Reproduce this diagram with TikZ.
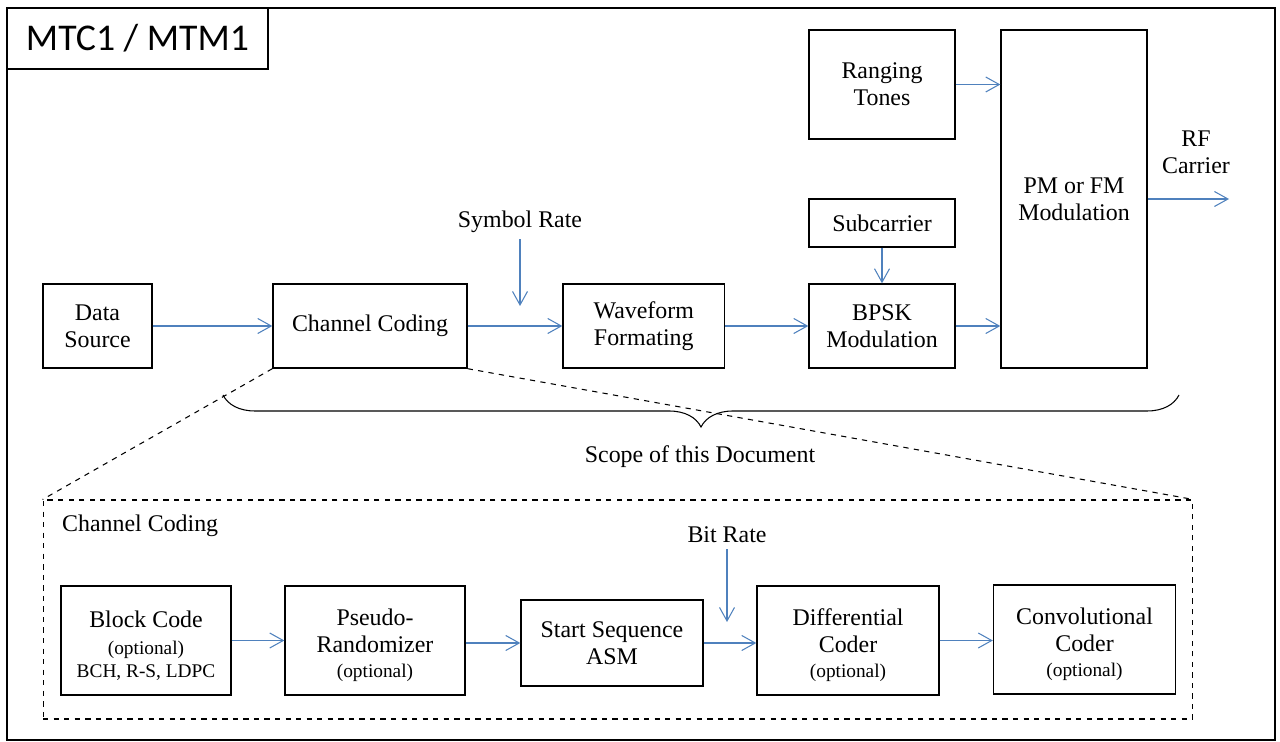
\documentclass[tikz,border=0pt]{standalone}
\usepackage{fontspec}
\setmainfont{Liberation Serif}
\newfontfamily\titlefont{Carlito}
\usepackage{xcolor}
\usepackage{tikz}
\usetikzlibrary{arrows.meta,decorations.pathreplacing}
\definecolor{flowblue}{HTML}{4F81BD}
\newcommand{\opt}{\fontsize{11}{14}\selectfont}
\newcommand{\topstrut}{\rule{0pt}{15pt}}

\begin{document}
\begin{tikzpicture}[x=0.02cm, y=-0.02cm,
  box/.style={draw, line width=0.8pt, align=center, inner sep=2pt, font=\rmfamily\fontsize{13.6}{15.5}\selectfont},
  lbl/.style={align=center, font=\rmfamily\fontsize{13.6}{15.5}\selectfont},
  flow/.style={draw=flowblue, line width=0.6pt, -{Straight Barb[length=2.7mm,width=3mm]}},
  zoomline/.style={dashed, line width=0.6pt}]
\useasboundingbox (0,0) rectangle (1280,742);

% Frame and title
\draw[line width=1.4pt] (7,8) rectangle (1275,740);
\node[draw, line width=1.2pt, minimum width=5.22cm, minimum height=1.22cm,
  font=\titlefont\fontsize{21.5}{24}\selectfont] (title) at (137.5,38.5) {MTC1 / MTM1};

% Top chain
\node[box, minimum width=2.18cm, minimum height=1.68cm] (src) at (97.5,326) {Data\\Source};
\node[box, minimum width=3.88cm, minimum height=1.68cm] (cc) at (370,326) {Channel Coding};
\node[box, minimum width=3.23cm, minimum height=1.68cm] (wf) at (643.75,326) {Waveform\\Formating};
\node[box, minimum width=2.92cm, minimum height=1.68cm] (bpsk) at (882,326) {BPSK\\Modulation};
\node[box, minimum width=2.92cm, minimum height=0.96cm] (sub) at (882,223) {Subcarrier};
\node[box, minimum width=2.92cm, minimum height=2.18cm] (rng) at (882,84.5) {Ranging\\Tones};
\node[box, minimum width=2.92cm, minimum height=6.76cm] (pm) at (1074,199) {PM or FM\\Modulation};
\node[lbl] (rf) at (1196,152) {RF\\Carrier};
\node[lbl] (symrate) at (520,222) {Symbol Rate};
\coordinate (symtip) at (520,306);
\coordinate (rfend) at (1229,199);

\draw[flow] (src) -- (cc);
\draw[flow] (cc) -- (wf);
\draw[flow] (wf) -- (bpsk);
\draw[flow] (sub) -- (bpsk);
\draw[flow] (rng.east) -- (pm.west |- rng.east);
\draw[flow] (bpsk.east) -- (pm.west |- bpsk.east);
\draw[flow] (pm.east) -- (rfend);
\draw[flow] (symrate.south) -- (symtip);

% Scope brace
\coordinate (bl) at (223,395);
\coordinate (br) at (1179,395);
\draw[decorate, decoration={brace, mirror, amplitude=0.64cm}, line width=0.6pt] (bl) -- (br);
\node[lbl] (scope) at (700,457) {Scope of this Document};

% Channel coding detail
\node[draw, dashed, line width=0.6pt, minimum width=23cm, minimum height=4.38cm] (ccbox) at (618,609.5) {};
\draw[zoomline] (cc.south west) -- (ccbox.north west);
\draw[zoomline] (cc.south east) -- (ccbox.north east);
\node[lbl, anchor=west] (cclabel) at (56,526) {Channel Coding};

\node[box, minimum width=3.4cm, minimum height=2.18cm] (blk) at (146,640.5) {\topstrut Block Code\\{\opt(optional)}\\[-2.5pt]{\opt BCH, R-S, LDPC}};
\node[box, minimum width=3.6cm, minimum height=2.18cm] (prand) at (375,640.5) {\topstrut Pseudo-\\Randomizer\\[-1pt]{\opt(optional)}};
\node[box, minimum width=3.64cm, minimum height=1.72cm] (asm) at (612,643) {Start Sequence\\ASM};
\node[box, minimum width=3.64cm, minimum height=2.18cm] (diff) at (848,640.5) {\topstrut Differential\\Coder\\[-1pt]{\opt(optional)}};
\node[box, minimum width=3.64cm, minimum height=2.18cm] (conv) at (1084.5,639.5) {\topstrut Convolutional\\Coder\\[-1pt]{\opt(optional)}};
\node[lbl] (bitrate) at (727,535) {Bit Rate};
\coordinate (bittip) at (727,622);

\draw[flow] (blk) -- (prand);
\draw[flow] (prand.east |- asm.west) -- (asm.west);
\draw[flow] (asm.east) -- (diff.west |- asm.east);
\draw[flow] (diff.east) -- (diff.east -| conv.west);
\draw[flow] (bitrate.south) -- (bittip);
\end{tikzpicture}
\end{document}
